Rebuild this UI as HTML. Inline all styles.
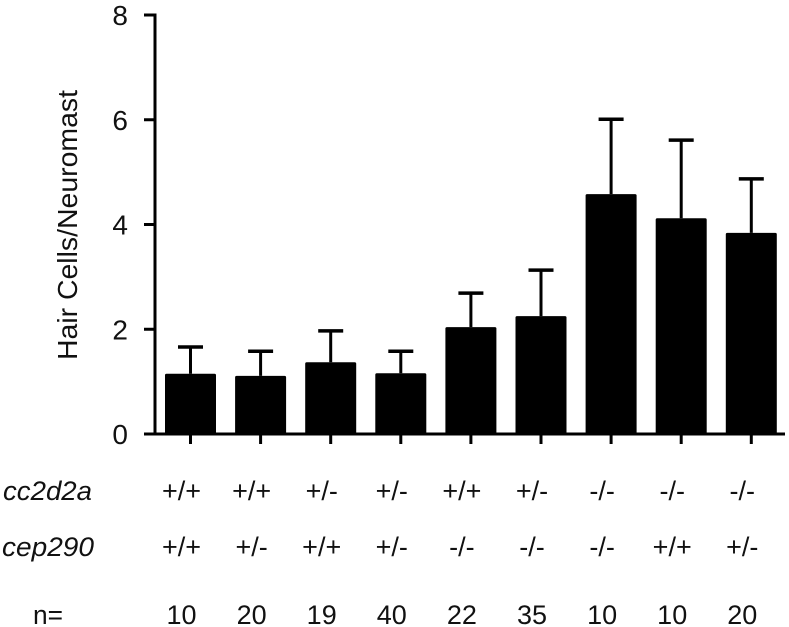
<!DOCTYPE html>
<html><head><meta charset="utf-8"><style>
body{margin:0;background:#fff;}
svg{display:block;font-family:"Liberation Sans",Arial,sans-serif;}
</style></head><body>
<svg id="chart" width="789" height="627" viewBox="0 0 789 627">
<g id="axes"></g><g id="bars"></g><g id="labels"></g>
</svg>
<script>
const cc2d2a = ["+/+","+/+","+/-","+/-","+/+","+/-","-/-","-/-","-/-"];
const cep290 = ["+/+","+/-","+/+","+/-","-/-","-/-","-/-","+/+","+/-"];
const nCounts = ["10","20","19","40","22","35","10","10","20"];
const means = [1.15,1.11,1.37,1.16,2.04,2.25,4.58,4.12,3.84];
const errTops = [1.66,1.58,1.97,1.58,2.69,3.13,6.01,5.61,4.87];
const yTicks = [0,2,4,6,8];

const NS="http://www.w3.org/2000/svg";
const y0=434, yTop=15, yMax=8;
const yScale=v=>y0-(v/yMax)*(y0-yTop);
const xCenter=i=>190.5+i*70.1;
const barW=51;
function mk(tag,attrs,parent,text){const e=document.createElementNS(NS,tag);for(const k in attrs)e.setAttribute(k,attrs[k]);if(text!==undefined)e.textContent=text;parent.appendChild(e);return e;}
const axes=document.getElementById('axes'),bars=document.getElementById('bars'),labels=document.getElementById('labels');

let a=mk('line',{x1:155,y1:yScale(8)-1.5,x2:155,y2:y0+1.5,stroke:'#000','stroke-width':3},axes);


a=mk('line',{x1:144,y1:y0,x2:785,y2:y0,stroke:'#000','stroke-width':3},axes);


yTicks.forEach(t=>{
  const y=yScale(t);
  let l=mk('line',{x1:144,y1:y,x2:155,y2:y,stroke:'#000','stroke-width':3},axes);
  
  
  let tx=mk('text',{x:128,y:y+10,'font-size':28,'text-anchor':'end',fill:'#111'},axes,String(t));
  
  
});
let yt=mk('text',{x:0,y:0,'font-size':28,'text-anchor':'middle',fill:'#111',textLength:270,lengthAdjust:'spacingAndGlyphs',transform:'translate(77,225) rotate(-90)'},axes,'Hair Cells/Neuromast');



means.forEach((m,i)=>{
  const cx=xCenter(i);
  let tk=mk('line',{x1:cx,y1:y0,x2:cx,y2:y0+10,stroke:'#000','stroke-width':3},axes);
  
  
  let eb=mk('line',{x1:cx,y1:yScale(errTops[i]),x2:cx,y2:yScale(m),stroke:'#000','stroke-width':3},bars);
  
  
  let cap=mk('line',{x1:cx-12.5,y1:yScale(errTops[i]),x2:cx+12.5,y2:yScale(errTops[i]),stroke:'#000','stroke-width':3.5},bars);
  
  
  let r=mk('rect',{x:cx-barW/2,y:yScale(m),width:barW,height:y0-yScale(m),fill:'#000',rx:1.5},bars);
  
  
  const lx=cx-9;
  let t1=mk('text',{x:lx,y:500,'font-size':27,'text-anchor':'middle',fill:'#111'},labels,cc2d2a[i]);
  
  
  let t2=mk('text',{x:lx,y:556,'font-size':27,'text-anchor':'middle',fill:'#111'},labels,cep290[i]);
  
  
  let t3=mk('text',{x:lx,y:624,'font-size':27,'text-anchor':'middle',fill:'#111'},labels,nCounts[i]);
  
  
});
let r1=mk('text',{x:3,y:500,'font-size':27,'font-style':'italic',fill:'#111',textLength:89,lengthAdjust:'spacingAndGlyphs'},labels,'cc2d2a');


let r2=mk('text',{x:2,y:556,'font-size':27,'font-style':'italic',fill:'#111',textLength:92,lengthAdjust:'spacingAndGlyphs'},labels,'cep290');


let r3=mk('text',{x:33,y:624,'font-size':27,fill:'#111',textLength:30,lengthAdjust:'spacingAndGlyphs'},labels,'n=');


</script>
</body></html>
